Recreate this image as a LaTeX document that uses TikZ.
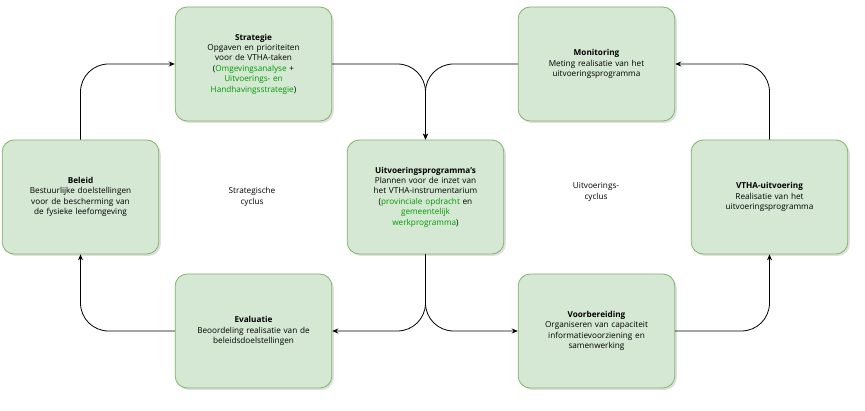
\documentclass[tikz,border=0pt]{standalone}
\usepackage{fontspec}
\setmainfont{Open Sans}
\usetikzlibrary{shadows,arrows.meta}
\definecolor{fillg}{HTML}{D5E8D4}
\definecolor{lineg}{HTML}{82B366}
\definecolor{txtg}{HTML}{009900}
\newcommand{\gr}[1]{\textcolor{txtg}{#1}}
\begin{document}
\begin{tikzpicture}[x=1pt,y=-1pt,
 box/.style={draw=lineg,line width=0.8pt,fill=fillg,rounded corners=12pt,minimum width=153pt,minimum height=114pt,
   align=center,text width=150pt,font=\fontsize{8.2}{10.4}\selectfont,drop shadow={opacity=0.25,shadow xshift=2pt,shadow yshift=-2pt}},
 con/.style={draw,line width=0.8pt,rounded corners=28pt,-{Stealth[length=6pt,width=5pt]}},
 lbl/.style={align=center,font=\fontsize{8.2}{10.4}\selectfont}]
\useasboundingbox (0,0) rectangle (865,411);
\node[box] (s) at (253.5,64) {\textbf{Strategie}\\Opgaven en prioriteiten\\voor de VTHA-taken\\(\gr{Omgevingsanalyse} +\\\gr{Uitvoerings- en}\\\gr{Handhavingsstrategie})};
\node[box] (m) at (596.5,64) {\textbf{Monitoring}\\Meting realisatie van het\\uitvoeringsprogramma};
\node[box] (b) at (80.5,197) {\textbf{Beleid}\\Bestuurlijke doelstellingen\\voor de bescherming van\\de fysieke leefomgeving};
\node[box] (u) at (425.5,197) {\textbf{Uitvoeringsprogramma's}\\Plannen voor de inzet van\\het VTHA-instrumentarium\\(\gr{provinciale opdracht} en\\\gr{gemeentelijk}\\\gr{werkprogramma})};
\node[box] (v) at (769.5,197) {\textbf{VTHA-uitvoering}\\Realisatie van het\\uitvoeringsprogramma};
\node[box] (e) at (253.5,331) {\textbf{Evaluatie}\\Beoordeling realisatie van de\\beleidsdoelstellingen\\[14pt]};
\node[box] (p) at (596.5,331) {\textbf{Voorbereiding}\\Organiseren van capaciteit\\informatievoorziening en\\samenwerking};
\node[lbl] (l1) at (252,197) {Strategische\\cyclus};
\node[lbl] (l2) at (596,192) {Uitvoerings-\\cyclus};
\draw[con] (b.north) |- (s.west);
\draw[con] (s.east) -| (u.north);
\draw[con] (m.west) -| (u.north);
\draw[con] (v.north) |- (m.east);
\draw[con] (p.east) -| (v.south);
\draw[con] (u.south) |- (p.west);
\draw[con] (u.south) |- (e.east);
\draw[con] (e.west) -| (b.south);
\end{tikzpicture}
\end{document}
